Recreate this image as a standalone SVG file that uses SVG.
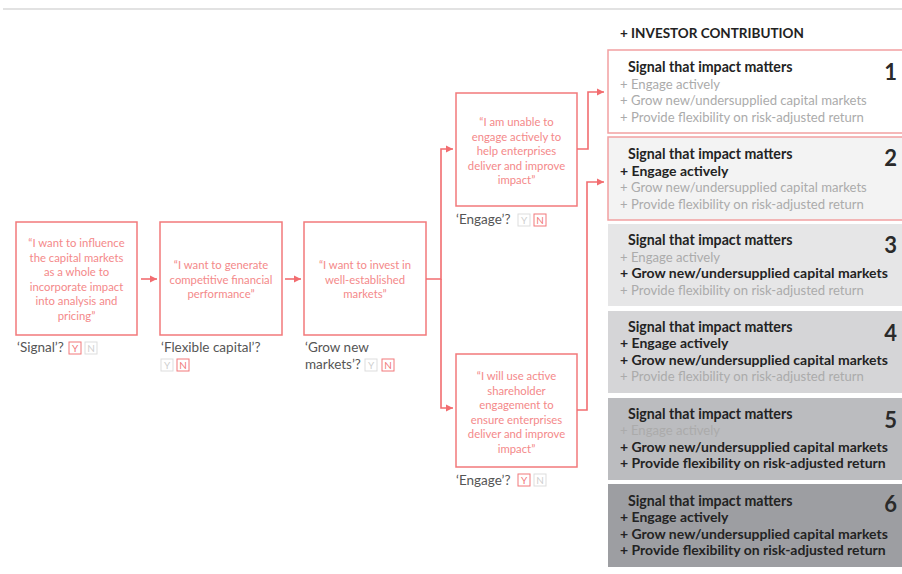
<svg xmlns="http://www.w3.org/2000/svg" width="902" height="574" viewBox="0 0 902 574">
  <style>
    .box { fill: #ffffff; stroke: #f2797b; stroke-width: 1.5; }
    .quote { font-family: Lato, "Liberation Sans", sans-serif; font-size: 11.3px; fill: #f4898a; text-anchor: middle; }
    .ask { font-family: Lato, "Liberation Sans", sans-serif; font-size: 13.5px; fill: #555555; }
    .yn-on { fill: #ffffff; stroke: #f2797b; stroke-width: 1; }
    .yn-off { fill: #ffffff; stroke: #dddddd; stroke-width: 1; }
    .yn-on-t { font-family: Lato, "Liberation Sans", sans-serif; font-size: 10px; fill: #f2797b; text-anchor: middle; }
    .yn-off-t { font-family: Lato, "Liberation Sans", sans-serif; font-size: 10px; fill: #cfcfcf; text-anchor: middle; }
    .link { fill: none; stroke: #f26d70; stroke-width: 1.6; }
    .head { font-family: Lato, "Liberation Sans", sans-serif; font-size: 13.5px; font-weight: bold; fill: #222222; }
    .sig { font-family: Lato, "Liberation Sans", sans-serif; font-size: 14.2px; font-weight: bold; fill: #232323; }
    .on { font-family: Lato, "Liberation Sans", sans-serif; font-size: 14px; font-weight: bold; fill: #232323; }
    .off { font-family: Lato, "Liberation Sans", sans-serif; font-size: 13.1px; fill: #ababab; }
    .num { font-family: Lato, "Liberation Sans", sans-serif; font-size: 22px; font-weight: bold; fill: #2a2a2a; text-anchor: end; }
  </style>
  <defs>
    <marker id="arrow" markerUnits="userSpaceOnUse" markerWidth="7" markerHeight="8" refX="7" refY="4" orient="auto">
      <path d="M0,0.5 L7,4 L0,7.5 z" fill="#f26d70"/>
    </marker>
  </defs>

  <rect width="902" height="574" fill="#ffffff"/>
  <line x1="3" y1="9" x2="902" y2="9" stroke="#e2e2e2" stroke-width="2"/>

  <!-- decision path -->
  <g id="signal">
    <rect class="box" x="16" y="222" width="121" height="113"/>
    <text class="quote" x="76.5" y="247">“I want to influence</text>
    <text class="quote" x="76.5" y="261.5">the capital markets</text>
    <text class="quote" x="76.5" y="276">as a whole to</text>
    <text class="quote" x="76.5" y="290.5">incorporate impact</text>
    <text class="quote" x="76.5" y="305">into analysis and</text>
    <text class="quote" x="76.5" y="319.5">pricing”</text>
    <text class="ask" x="17" y="352">‘Signal’?</text>
    <rect class="yn-on" x="69" y="342" width="12" height="12"/>
    <text class="yn-on-t" x="75" y="351.5">Y</text>
    <rect class="yn-off" x="85" y="342" width="12" height="12"/>
    <text class="yn-off-t" x="91" y="351.5">N</text>
  </g>

  <g id="flexible">
    <rect class="box" x="160" y="222" width="122" height="113"/>
    <text class="quote" x="221" y="269">“I want to generate</text>
    <text class="quote" x="221" y="283.5">competitive financial</text>
    <text class="quote" x="221" y="298">performance”</text>
    <text class="ask" x="161" y="352">‘Flexible capital’?</text>
    <rect class="yn-off" x="161" y="359" width="12" height="12"/>
    <text class="yn-off-t" x="167" y="368.5">Y</text>
    <rect class="yn-on" x="177" y="359" width="12" height="12"/>
    <text class="yn-on-t" x="183" y="368.5">N</text>
  </g>

  <g id="grow">
    <rect class="box" x="304" y="222" width="122" height="113"/>
    <text class="quote" x="365" y="269">“I want to invest in</text>
    <text class="quote" x="365" y="283.5">well-established</text>
    <text class="quote" x="365" y="298">markets”</text>
    <text class="ask" x="305" y="352">‘Grow new</text>
    <text class="ask" x="305" y="369">markets’?</text>
    <rect class="yn-off" x="365" y="359" width="12" height="12"/>
    <text class="yn-off-t" x="371" y="368.5">Y</text>
    <rect class="yn-on" x="382" y="359" width="12" height="12"/>
    <text class="yn-on-t" x="388" y="368.5">N</text>
  </g>

  <g id="engage-no">
    <rect class="box" x="456" y="93" width="121" height="113"/>
    <text class="quote" x="516.5" y="126">“I am unable to</text>
    <text class="quote" x="516.5" y="140.5">engage actively to</text>
    <text class="quote" x="516.5" y="155">help enterprises</text>
    <text class="quote" x="516.5" y="169.5">deliver and improve</text>
    <text class="quote" x="516.5" y="184">impact”</text>
    <text class="ask" x="456" y="224">‘Engage’?</text>
    <rect class="yn-off" x="518" y="214" width="12" height="12"/>
    <text class="yn-off-t" x="524" y="223.5">Y</text>
    <rect class="yn-on" x="534" y="214" width="12" height="12"/>
    <text class="yn-on-t" x="540" y="223.5">N</text>
  </g>

  <g id="engage-yes">
    <rect class="box" x="456" y="354" width="121" height="113"/>
    <text class="quote" x="516.5" y="380">“I will use active</text>
    <text class="quote" x="516.5" y="394.5">shareholder</text>
    <text class="quote" x="516.5" y="409">engagement to</text>
    <text class="quote" x="516.5" y="423.5">ensure enterprises</text>
    <text class="quote" x="516.5" y="438">deliver and improve</text>
    <text class="quote" x="516.5" y="452.5">impact”</text>
    <text class="ask" x="456" y="485">‘Engage’?</text>
    <rect class="yn-on" x="518" y="474" width="12" height="12"/>
    <text class="yn-on-t" x="524" y="483.5">Y</text>
    <rect class="yn-off" x="534" y="474" width="12" height="12"/>
    <text class="yn-off-t" x="540" y="483.5">N</text>
  </g>

  <!-- connectors -->
  <g id="connectors">
    <path class="link" d="M141,279 H157" marker-end="url(#arrow)"/>
    <path class="link" d="M285,279 H301" marker-end="url(#arrow)"/>
    <path class="link" d="M426,279 H441 V149 H453" marker-end="url(#arrow)"/>
    <path class="link" d="M441,279 V408 H453" marker-end="url(#arrow)"/>
    <path class="link" d="M577,149 H588 V92 H604" marker-end="url(#arrow)"/>
    <path class="link" d="M577,410 H587 V182 H604" marker-end="url(#arrow)"/>
  </g>

  <!-- contribution levels -->
  <text class="head" x="620" y="38">+ INVESTOR CONTRIBUTION</text>

  <g id="level-1">
    <rect x="608" y="50" width="300" height="83" fill="#ffffff" stroke="#f2a0a1" stroke-width="1.5"/>
    <text class="sig" x="628" y="72">Signal that impact matters</text>
    <text class="off" x="620" y="88.5">+ Engage actively</text>
    <text class="off" x="620" y="105">+ Grow new/undersupplied capital markets</text>
    <text class="off" x="620" y="121.5">+ Provide flexibility on risk-adjusted return</text>
    <text class="num" x="897" y="80">1</text>
  </g>

  <g id="level-2">
    <rect x="608" y="137" width="300" height="83" fill="#f3f3f3" stroke="#f2a0a1" stroke-width="1.5"/>
    <text class="sig" x="628" y="159">Signal that impact matters</text>
    <text class="on" x="620" y="175.5">+ Engage actively</text>
    <text class="off" x="620" y="192">+ Grow new/undersupplied capital markets</text>
    <text class="off" x="620" y="208.5">+ Provide flexibility on risk-adjusted return</text>
    <text class="num" x="897" y="166">2</text>
  </g>

  <g id="level-3">
    <rect x="608" y="224" width="300" height="82" fill="#e6e6e7"/>
    <text class="sig" x="628" y="245">Signal that impact matters</text>
    <text class="off" x="620" y="261.5" fill="#a4a4a4">+ Engage actively</text>
    <text class="on" x="620" y="278">+ Grow new/undersupplied capital markets</text>
    <text class="off" x="620" y="294.5" fill="#a4a4a4">+ Provide flexibility on risk-adjusted return</text>
    <text class="num" x="897" y="253">3</text>
  </g>

  <g id="level-4">
    <rect x="608" y="311" width="300" height="82" fill="#d5d5d7"/>
    <text class="sig" x="628" y="331.5">Signal that impact matters</text>
    <text class="on" x="620" y="348">+ Engage actively</text>
    <text class="on" x="620" y="364.5">+ Grow new/undersupplied capital markets</text>
    <text class="off" x="620" y="381" fill="#a3a3a5">+ Provide flexibility on risk-adjusted return</text>
    <text class="num" x="897" y="341">4</text>
  </g>

  <g id="level-5">
    <rect x="608" y="398" width="300" height="82" fill="#bbbcbf"/>
    <text class="sig" x="628" y="418.5">Signal that impact matters</text>
    <text class="off" x="620" y="435" fill="#dcdcde">+ Engage actively</text>
    <text class="on" x="620" y="451.5">+ Grow new/undersupplied capital markets</text>
    <text class="on" x="620" y="468">+ Provide flexibility on risk-adjusted return</text>
    <text class="num" x="897" y="428">5</text>
  </g>

  <g id="level-6">
    <rect x="608" y="484" width="300" height="83" fill="#9d9ea2"/>
    <text class="sig" x="628" y="505.5">Signal that impact matters</text>
    <text class="on" x="620" y="522">+ Engage actively</text>
    <text class="on" x="620" y="538.5">+ Grow new/undersupplied capital markets</text>
    <text class="on" x="620" y="555">+ Provide flexibility on risk-adjusted return</text>
    <text class="num" x="897" y="512">6</text>
  </g>
</svg>
